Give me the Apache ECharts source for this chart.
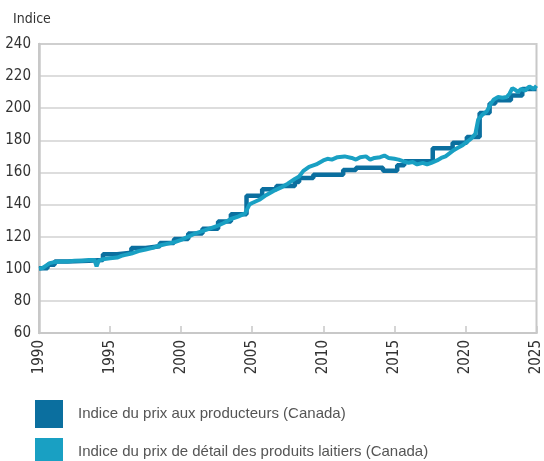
<!DOCTYPE html>
<html>
<head>
<meta charset="utf-8">
<script src="https://cdn.jsdelivr.net/npm/echarts@6/dist/echarts.min.js"></script>
<style>
html,body{margin:0;padding:0;background:#fff;}
#c{width:544px;height:461px;}
</style>
</head>
<body>
<div id="c"></div>
<script>
// Tick labels
var yearTicks = [1990, 1995, 2000, 2005, 2010, 2015, 2020, 2025];
var yTicks = [60, 80, 100, 120, 140, 160, 180, 200, 220, 240];

// Producer price index (Canada): step changes [year, value from that year]
var producerYears = [1990.0, 1990.6, 1991.1, 1992.0, 1993.5, 1994.5, 1995.5, 1996.5, 1997.5, 1998.5, 1999.5, 2000.5, 2001.5, 2002.6, 2003.5, 2004.6, 2005.7, 2006.7, 2008.0, 2008.3, 2009.3, 2011.4, 2012.3, 2014.2, 2015.2, 2015.7, 2017.7, 2019.1, 2020.1, 2021.0, 2021.7, 2022.1, 2023.2, 2024.0, 2025.0];
var producerValues = [100.3, 102.5, 104.5, 105, 105.5, 109, 110, 113, 114, 116, 118.5, 122, 125, 129.5, 134, 145.5, 149.5, 151.5, 154, 156.5, 158.5, 161.5, 163, 161, 164.5, 167, 175, 178.5, 182, 197, 203, 205, 208, 212, 212];

// Retail price index of dairy products (Canada)
var retailYears = [1990.0, 1990.25, 1990.5, 1990.75, 1991.0, 1991.5, 1992.0, 1992.5, 1993.0, 1993.5, 1993.9, 1994.05, 1994.2, 1994.5, 1995.0, 1995.5, 1995.8, 1996.0, 1996.5, 1997.0, 1997.5, 1998.0, 1998.5, 1999.0, 1999.5, 2000.0, 2000.5, 2001.0, 2001.5, 2002.0, 2002.5, 2003.0, 2003.5, 2004.0, 2004.5, 2004.8, 2005.0, 2005.5, 2006.0, 2006.5, 2007.0, 2007.5, 2008.0, 2008.3, 2008.6, 2009.0, 2009.5, 2010.0, 2010.3, 2010.6, 2011.0, 2011.5, 2012.0, 2012.3, 2012.6, 2013.0, 2013.3, 2013.6, 2014.0, 2014.3, 2014.6, 2015.0, 2015.3, 2015.6, 2016.0, 2016.3, 2016.6, 2017.0, 2017.3, 2017.6, 2018.0, 2018.3, 2018.6, 2018.9, 2019.2, 2019.5, 2019.8, 2020.1, 2020.4, 2020.7, 2020.9, 2021.2, 2021.5, 2021.8, 2022.0, 2022.3, 2022.6, 2022.9, 2023.1, 2023.3, 2023.5, 2023.7, 2023.9, 2024.2, 2024.5, 2024.8, 2025.0];
var retailValues = [100, 100.5, 102, 103.5, 104, 104.5, 104.5, 105, 105, 105.5, 105.5, 101.5, 105, 106, 106.5, 107, 108, 108.5, 109.5, 111, 112, 113, 114.5, 115.5, 116.5, 118, 120, 122, 123.5, 125, 126.5, 128.5, 131, 132.5, 134.5, 140, 141, 143, 146, 148.5, 150.5, 153, 156, 157.5, 161, 163.5, 165, 167.5, 168.5, 168, 169.5, 170, 169, 168, 169.5, 170, 168, 169, 169.5, 170.5, 169, 168.5, 168, 167, 166, 166.5, 165, 166, 165, 166, 167.5, 169, 170, 172, 174, 175.5, 177, 179, 181, 184, 193, 196, 198, 203, 205.5, 207, 206.5, 207, 209, 212.5, 211.5, 210, 212, 211, 213.5, 212, 214];

var seriesNames = ['Indice du prix aux producteurs (Canada)', 'Indice du prix de détail des produits laitiers (Canada)'];
var colors = ['#0b6f9f', '#19a0c3'];

function pairs(xs, ys) { return xs.map(function (x, i) { return [x, ys[i]]; }); }

var condFont = '"DejaVu Sans Condensed", "Liberation Sans", sans-serif';
var legendText = { fontFamily: '"Liberation Sans", Arial, sans-serif', fontSize: 15, color: '#555', padding: [0, 0, 0, 10] };

function legendFor(i, top) {
  return {
    orient: 'vertical', left: 35, top: top, padding: 0,
    itemWidth: 28, itemHeight: 28, icon: 'rect',
    textStyle: legendText, data: [seriesNames[i]]
  };
}

var chart = echarts.init(document.getElementById('c'), null, { renderer: 'canvas' });
chart.setOption({
  animation: false,
  color: colors,
  title: {
    text: 'Indice', left: 8, top: 7,
    textStyle: { fontFamily: condFont, fontSize: 14, fontWeight: 'normal', color: '#333' }
  },
  grid: {
    left: 39, right: 7, top: 44, bottom: 128,
    show: true, borderColor: '#c8c8c8', borderWidth: 2, backgroundColor: 'transparent'
  },
  legend: [legendFor(0, 400), legendFor(1, 438)],
  xAxis: {
    type: 'value', min: yearTicks[0], max: yearTicks[yearTicks.length - 1], interval: 5,
    axisLine: { lineStyle: { color: '#c8c8c8', width: 2 } },
    axisTick: { inside: true, length: 7, lineStyle: { color: '#c8c8c8', width: 1.5 } },
    splitLine: { show: false },
    axisLabel: {
      rotate: 90, margin: 7, fontFamily: condFont, fontSize: 15, color: '#333',
      formatter: function (v) { return yearTicks.indexOf(v) >= 0 ? String(v) : ''; }
    }
  },
  yAxis: {
    type: 'value', min: yTicks[0], max: yTicks[yTicks.length - 1], interval: 20,
    axisLine: { show: true, lineStyle: { color: '#c8c8c8', width: 2.5 } },
    axisTick: { show: false },
    splitLine: { lineStyle: { color: '#d2d2d2', width: 1.5 } },
    axisLabel: {
      margin: 8, fontFamily: condFont, fontSize: 15, color: '#333',
      formatter: function (v) { return yTicks.indexOf(v) >= 0 ? String(v) : ''; }
    }
  },
  series: [
    {
      name: seriesNames[0], type: 'line', step: 'end', showSymbol: false,
      data: pairs(producerYears, producerValues),
      lineStyle: { width: 4.5, color: colors[0] }, itemStyle: { color: colors[0] }
    },
    {
      name: seriesNames[1], type: 'line', showSymbol: false,
      data: pairs(retailYears, retailValues),
      lineStyle: { width: 4, color: colors[1] }, itemStyle: { color: colors[1] }
    }
  ]
});
</script>
</body>
</html>
